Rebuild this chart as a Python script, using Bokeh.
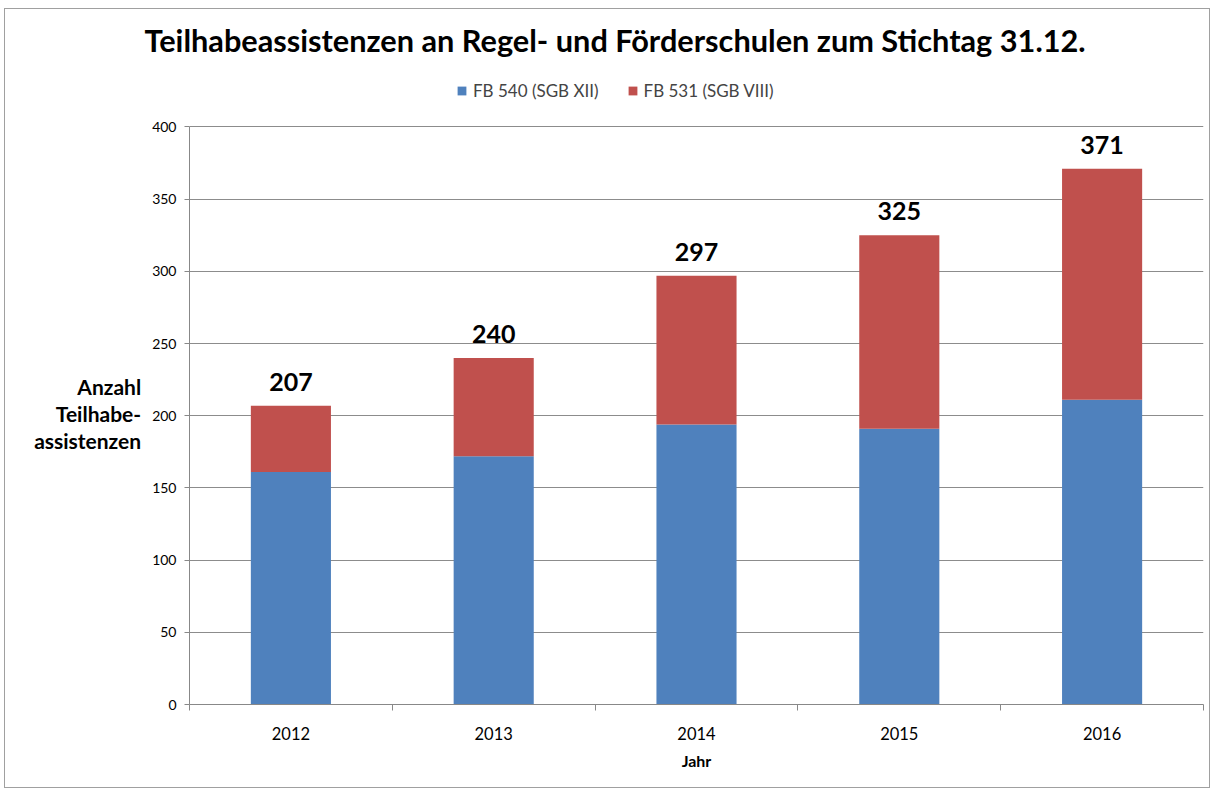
from bokeh.plotting import figure
from bokeh.models import (ColumnDataSource, Range1d, FixedTicker, Legend, LegendItem,
                          LabelSet, Title)
from bokeh.core.properties import value
from bokeh.embed import file_html
from bokeh.resources import INLINE

title_text = "Teilhabeassistenzen an Regel- und Förderschulen zum Stichtag 31.12."
years = ["2012", "2013", "2014", "2015", "2016"]
fb540 = [161, 172, 194, 191, 211]
fb531 = [46, 68, 103, 134, 160]
totals = [a + b for a, b in zip(fb540, fb531)]
series_names = ["FB 540 (SGB XII)", "FB 531 (SGB VIII)"]
colors = ["#4F81BD", "#C0504D"]
y_ticks = [0, 50, 100, 150, 200, 250, 300, 350, 400]

FONT = "Lato"

xpos = [i + 0.5 for i in range(len(years))]
src = ColumnDataSource(dict(x=xpos, fb540=fb540, fb531=fb531, total=totals,
                            lbl=[str(t) for t in totals]))

# frame extends above 400 to hold the legend (axis/grid stop at 400)
p = figure(width=1206, height=780, x_range=Range1d(0, len(years)), y_range=Range1d(0, 440.5),
           output_backend="svg", toolbar_location=None,
           min_border_left=184, min_border_right=8, min_border_top=53, min_border_bottom=85)

r = p.vbar_stack(["fb540", "fb531"], x="x", width=0.395, color=colors, source=src,
                 line_color=None)

labels = LabelSet(x="x", y="total", text="lbl", source=src, text_align="center",
                  text_baseline="bottom", y_offset=15, text_font=value(FONT),
                  text_font_style="bold", text_font_size="25px", text_color="#000000")
p.add_layout(labels)

# x axis
p.xaxis.ticker = FixedTicker(ticks=xpos, minor_ticks=list(range(len(years) + 1)))
p.xaxis.major_label_overrides = {x: y for x, y in zip(xpos, years)}
p.xaxis.major_tick_line_color = None
p.xaxis.minor_tick_in = 0
p.xaxis.minor_tick_out = 6
p.xaxis.minor_tick_line_color = "#888888"
p.xaxis.axis_line_color = "#888888"
p.xaxis.major_label_text_font = FONT
p.xaxis.major_label_text_font_size = "16.5px"
p.xaxis.major_label_text_color = "#000000"
p.xaxis.major_label_standoff = 16
p.xaxis.axis_label = "Jahr"
p.xaxis.axis_label_text_font = FONT
p.xaxis.axis_label_text_font_style = "bold"
p.xaxis.axis_label_text_font_size = "16px"
p.xaxis.axis_label_text_color = "#000000"
p.xaxis.axis_label_standoff = 8

# y axis
p.yaxis.ticker = FixedTicker(ticks=y_ticks)
p.yaxis.bounds = (0, 400)
p.yaxis.minor_tick_line_color = None
p.yaxis.major_tick_in = 0
p.yaxis.major_tick_out = 5
p.yaxis.major_tick_line_color = "#888888"
p.yaxis.axis_line_color = "#888888"
p.yaxis.major_label_text_font = FONT
p.yaxis.major_label_text_font_size = "14px"
p.yaxis.major_label_text_color = "#000000"
p.yaxis.major_label_standoff = 8
p.yaxis.axis_label = "\u00a0\n\u00a0\nAnzahl\nTeilhabe-\nassistenzen"
p.yaxis.axis_label_orientation = "horizontal"
p.yaxis.axis_label_text_font = FONT
p.yaxis.axis_label_text_font_style = "bold"
p.yaxis.axis_label_text_font_size = "21px"
p.yaxis.axis_label_text_line_height = 1.07
p.yaxis.axis_label_text_align = "center"
p.yaxis.axis_label_text_color = "#000000"
p.yaxis.axis_label_standoff = 8

p.xgrid.grid_line_color = None
p.ygrid.grid_line_color = "#8C8C8C"
p.ygrid.grid_line_width = 1
p.ygrid.bounds = (0, 400)
p.outline_line_color = None

legend = Legend(items=[LegendItem(label=series_names[0], renderers=[r[0]]),
                       LegendItem(label=series_names[1], renderers=[r[1]])],
                orientation="horizontal", location=(267, 603),
                label_text_font=FONT, label_text_font_size="17px",
                glyph_width=11, glyph_height=11, label_standoff=6, spacing=28,
                padding=0, margin=0, label_height=20,
                border_line_color=None, background_fill_alpha=0)
p.add_layout(legend)

p.title = Title(text=title_text, align="left", offset=-45, text_font=FONT,
                text_font_style="bold", text_font_size="30.7px", text_color="#000000",
                standoff=20)

p.styles = {"border": "1px solid #A0A0A0", "margin-left": "4px", "margin-top": "8px"}

open("out.html", "w").write(file_html(p, INLINE))
